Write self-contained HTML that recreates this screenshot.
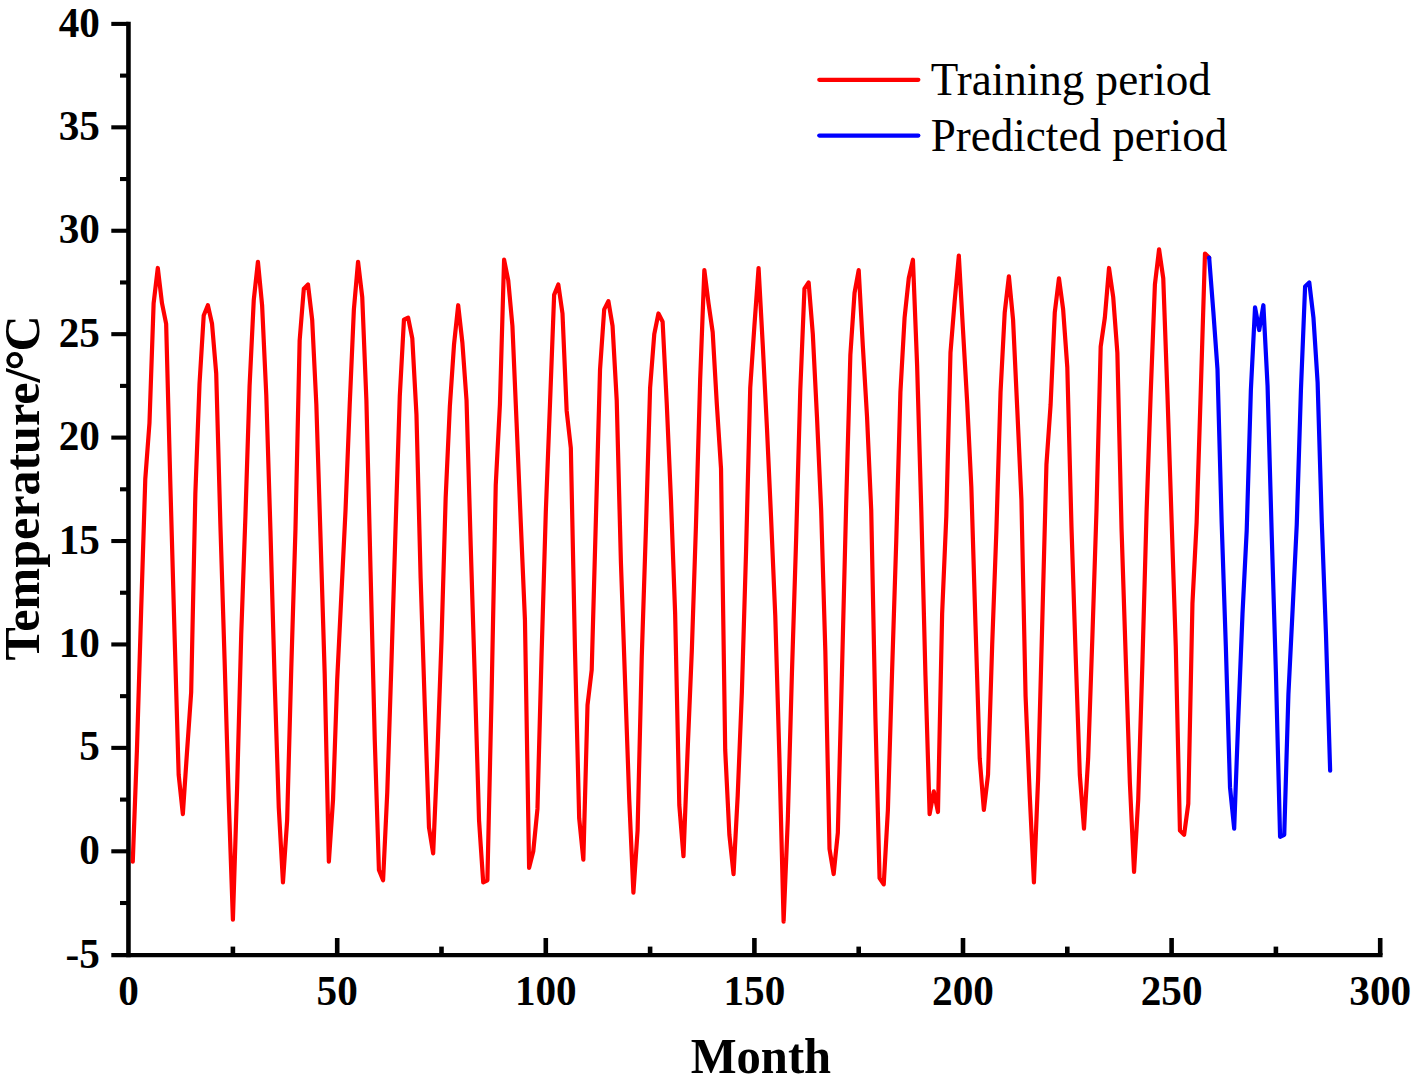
<!DOCTYPE html>
<html><head><meta charset="utf-8"><title>Temperature chart</title>
<style>html,body{margin:0;padding:0;background:#fff;width:1416px;height:1080px;overflow:hidden}</style></head>
<body>
<svg width="1416" height="1080" viewBox="0 0 1416 1080" style="display:block">
<rect width="1416" height="1080" fill="#fff"/>
<g stroke="#000" fill="none" stroke-linecap="butt">
<path stroke-width="4.6" d="M128.45,21.85 V957.15"/>
<path stroke-width="4.1" d="M111.3,955.1 H1382.55"/>
<path stroke-width="4.1" d="M111.3,851.30 H128.45"/>
<path stroke-width="4.1" d="M111.3,747.88 H128.45"/>
<path stroke-width="4.1" d="M111.3,644.45 H128.45"/>
<path stroke-width="4.1" d="M111.3,541.02 H128.45"/>
<path stroke-width="4.1" d="M111.3,437.60 H128.45"/>
<path stroke-width="4.1" d="M111.3,334.17 H128.45"/>
<path stroke-width="4.1" d="M111.3,230.75 H128.45"/>
<path stroke-width="4.1" d="M111.3,127.33 H128.45"/>
<path stroke-width="4.1" d="M111.3,23.90 H128.45"/>
<path stroke-width="4.1" d="M120.0,903.01 H128.45"/>
<path stroke-width="4.1" d="M120.0,799.59 H128.45"/>
<path stroke-width="4.1" d="M120.0,696.16 H128.45"/>
<path stroke-width="4.1" d="M120.0,592.74 H128.45"/>
<path stroke-width="4.1" d="M120.0,489.31 H128.45"/>
<path stroke-width="4.1" d="M120.0,385.89 H128.45"/>
<path stroke-width="4.1" d="M120.0,282.46 H128.45"/>
<path stroke-width="4.1" d="M120.0,179.04 H128.45"/>
<path stroke-width="4.1" d="M120.0,75.61 H128.45"/>
<path stroke-width="4.6" d="M337.20,938 V955.1"/>
<path stroke-width="4.6" d="M545.80,938 V955.1"/>
<path stroke-width="4.6" d="M754.40,938 V955.1"/>
<path stroke-width="4.6" d="M963.00,938 V955.1"/>
<path stroke-width="4.6" d="M1171.60,938 V955.1"/>
<path stroke-width="4.6" d="M1380.20,938 V955.1"/>
<path stroke-width="4.6" d="M232.90,946.6 V955.1"/>
<path stroke-width="4.6" d="M441.50,946.6 V955.1"/>
<path stroke-width="4.6" d="M650.10,946.6 V955.1"/>
<path stroke-width="4.6" d="M858.70,946.6 V955.1"/>
<path stroke-width="4.6" d="M1067.30,946.6 V955.1"/>
<path stroke-width="4.6" d="M1275.90,946.6 V955.1"/>
</g>
<text transform="translate(99.90,967.70) scale(1,1.03)" font-family="'Liberation Serif', serif" font-weight="bold" font-size="41.2px" text-anchor="end" fill="#000">-5</text>
<text transform="translate(99.90,863.90) scale(1,1.03)" font-family="'Liberation Serif', serif" font-weight="bold" font-size="41.2px" text-anchor="end" fill="#000">0</text>
<text transform="translate(99.90,760.48) scale(1,1.03)" font-family="'Liberation Serif', serif" font-weight="bold" font-size="41.2px" text-anchor="end" fill="#000">5</text>
<text transform="translate(99.90,657.05) scale(1,1.03)" font-family="'Liberation Serif', serif" font-weight="bold" font-size="41.2px" text-anchor="end" fill="#000">10</text>
<text transform="translate(99.90,553.62) scale(1,1.03)" font-family="'Liberation Serif', serif" font-weight="bold" font-size="41.2px" text-anchor="end" fill="#000">15</text>
<text transform="translate(99.90,450.20) scale(1,1.03)" font-family="'Liberation Serif', serif" font-weight="bold" font-size="41.2px" text-anchor="end" fill="#000">20</text>
<text transform="translate(99.90,346.77) scale(1,1.03)" font-family="'Liberation Serif', serif" font-weight="bold" font-size="41.2px" text-anchor="end" fill="#000">25</text>
<text transform="translate(99.90,243.35) scale(1,1.03)" font-family="'Liberation Serif', serif" font-weight="bold" font-size="41.2px" text-anchor="end" fill="#000">30</text>
<text transform="translate(99.90,139.93) scale(1,1.03)" font-family="'Liberation Serif', serif" font-weight="bold" font-size="41.2px" text-anchor="end" fill="#000">35</text>
<text transform="translate(99.90,36.50) scale(1,1.03)" font-family="'Liberation Serif', serif" font-weight="bold" font-size="41.2px" text-anchor="end" fill="#000">40</text>
<text transform="translate(128.60,1004.80) scale(1,1.03)" font-family="'Liberation Serif', serif" font-weight="bold" font-size="41.2px" text-anchor="middle" fill="#000">0</text>
<text transform="translate(337.20,1004.80) scale(1,1.03)" font-family="'Liberation Serif', serif" font-weight="bold" font-size="41.2px" text-anchor="middle" fill="#000">50</text>
<text transform="translate(545.80,1004.80) scale(1,1.03)" font-family="'Liberation Serif', serif" font-weight="bold" font-size="41.2px" text-anchor="middle" fill="#000">100</text>
<text transform="translate(754.40,1004.80) scale(1,1.03)" font-family="'Liberation Serif', serif" font-weight="bold" font-size="41.2px" text-anchor="middle" fill="#000">150</text>
<text transform="translate(963.00,1004.80) scale(1,1.03)" font-family="'Liberation Serif', serif" font-weight="bold" font-size="41.2px" text-anchor="middle" fill="#000">200</text>
<text transform="translate(1171.60,1004.80) scale(1,1.03)" font-family="'Liberation Serif', serif" font-weight="bold" font-size="41.2px" text-anchor="middle" fill="#000">250</text>
<text transform="translate(1380.20,1004.80) scale(1,1.03)" font-family="'Liberation Serif', serif" font-weight="bold" font-size="41.2px" text-anchor="middle" fill="#000">300</text>
<text transform="translate(760.90,1072.80) scale(1,1.03)" font-family="'Liberation Serif', serif" font-weight="bold" font-size="48.6px" text-anchor="middle" fill="#000">Month</text>
<text transform="translate(39.3,660.5) scale(1.05,1.03) rotate(-90)" font-family="'Liberation Serif', serif" font-weight="bold" font-size="48.6px" fill="#000">Temperature/</text>
<ellipse cx="14.7" cy="360.2" rx="6.55" ry="6.25" fill="none" stroke="#000" stroke-width="3.7"/>
<text transform="translate(39.3,351.5) scale(1.05,1.03) rotate(-90)" font-family="'Liberation Serif', serif" font-weight="bold" font-size="48.6px" fill="#000">C</text>
<g stroke-width="4.3" stroke-linecap="round" fill="none">
<path d="M819.3,79.8 H918.3" stroke="#f00"/>
<path d="M819.3,135.6 H918.3" stroke="#00f"/>
</g>
<text transform="translate(930.70,94.90) scale(1,1.035)" font-family="'Liberation Serif', serif" font-size="45.1px" text-anchor="start" fill="#000">Training period</text>
<text transform="translate(930.70,150.70) scale(1,1.035)" font-family="'Liberation Serif', serif" font-size="45.1px" text-anchor="start" fill="#000">Predicted period</text>
<polyline points="132.77,861.64 136.94,749.94 141.12,611.35 145.29,478.97 149.46,423.12 153.63,303.15 157.80,267.98 161.98,303.15 166.15,323.83 170.32,483.11 174.49,632.04 178.66,774.77 182.84,814.07 187.01,752.01 191.18,692.03 195.35,493.45 199.52,383.82 203.70,315.56 207.87,305.22 212.04,323.83 216.21,373.48 220.38,524.48 224.56,658.93 228.73,799.59 232.90,919.56 237.07,789.25 241.24,634.11 245.42,516.20 249.59,385.89 253.76,300.04 257.93,261.78 262.10,305.22 266.28,394.99 270.45,530.68 274.62,679.61 278.79,807.86 282.96,882.33 287.14,820.27 291.31,667.20 295.48,528.61 299.65,340.38 303.82,288.67 308.00,284.53 312.17,319.70 316.34,404.50 320.51,536.89 324.68,673.41 328.86,861.64 333.03,799.59 337.20,679.61 341.37,594.81 345.54,510.00 349.72,404.50 353.89,309.35 358.06,261.78 362.23,296.94 366.40,400.37 370.58,572.05 374.75,739.60 378.92,869.92 383.09,880.26 387.26,792.35 391.44,663.07 395.61,526.55 399.78,396.23 403.95,319.70 408.12,317.63 412.30,338.31 416.47,414.85 420.64,578.26 424.81,706.50 428.98,827.51 433.16,853.37 437.33,756.15 441.50,640.31 445.67,497.59 449.84,406.57 454.02,344.52 458.19,305.22 462.36,342.45 466.53,400.37 470.70,545.16 474.88,680.65 479.05,820.27 483.22,882.33 487.39,880.26 491.56,696.16 495.74,485.18 499.91,404.50 504.08,259.71 508.25,280.39 512.42,325.90 516.60,423.12 520.77,522.41 524.94,619.63 529.11,867.85 533.28,851.30 537.46,808.90 541.63,652.72 545.80,512.07 549.97,404.50 554.14,294.87 558.32,284.53 562.49,313.49 566.66,410.71 570.83,447.94 575.00,650.66 579.18,818.20 583.35,859.57 587.52,705.06 591.69,670.10 595.86,520.34 600.04,369.34 604.21,309.35 608.38,301.08 612.55,325.90 616.72,400.37 620.90,561.71 625.07,681.68 629.24,799.59 633.41,892.67 637.58,830.62 641.76,656.86 645.93,528.61 650.10,387.96 654.27,334.17 658.44,313.49 662.62,321.76 666.79,404.50 670.96,499.65 675.13,613.42 679.30,804.97 683.48,856.26 687.65,749.94 691.82,650.66 695.99,524.48 700.16,379.68 704.34,270.05 708.51,303.15 712.68,332.11 716.85,404.50 721.02,468.63 725.20,749.94 729.37,834.75 733.54,874.05 737.71,795.45 741.88,692.03 746.06,551.37 750.23,387.96 754.40,325.90 758.57,267.98 762.74,344.52 766.92,427.26 771.09,518.27 775.26,615.49 779.43,758.22 783.60,921.63 787.78,820.27 791.95,672.37 796.12,539.58 800.29,390.02 804.46,288.67 808.64,282.46 812.81,334.17 816.98,416.91 821.15,510.00 825.32,650.66 829.50,848.82 833.67,874.05 837.84,832.68 842.01,670.10 846.18,503.79 850.36,354.86 854.53,292.80 858.70,270.05 862.87,346.59 867.04,416.91 871.22,510.00 875.39,716.85 879.56,878.19 883.73,884.40 887.90,809.93 892.08,671.34 896.25,541.02 900.42,392.09 904.59,317.63 908.76,278.33 912.94,259.71 917.11,365.20 921.28,510.00 925.45,675.48 929.62,814.07 933.80,791.31 937.97,812.00 942.14,613.42 946.31,516.20 950.48,352.79 954.66,301.08 958.83,255.57 963.00,330.04 967.17,402.44 971.34,487.24 975.52,625.83 979.69,758.22 983.86,809.93 988.03,774.77 992.20,644.45 996.38,530.68 1000.55,392.09 1004.72,312.46 1008.89,276.26 1013.06,319.70 1017.24,408.64 1021.41,499.65 1025.58,696.16 1029.75,795.45 1033.92,882.33 1038.10,778.90 1042.27,621.70 1046.44,464.49 1050.61,404.50 1054.78,312.46 1058.96,278.33 1063.13,309.35 1067.30,367.27 1071.47,526.55 1075.64,654.79 1079.82,774.77 1083.99,828.55 1088.16,758.22 1092.33,638.24 1096.50,510.00 1100.68,346.59 1104.85,317.63 1109.02,267.98 1113.19,296.94 1117.36,352.79 1121.54,528.61 1125.71,656.86 1129.88,783.04 1134.05,871.98 1138.22,799.59 1142.40,663.07 1146.57,512.07 1150.74,392.09 1154.91,284.53 1159.08,249.37 1163.26,278.33 1167.43,394.16 1171.60,520.34 1175.77,646.52 1179.94,830.62 1184.12,834.75 1188.29,803.72 1192.46,603.08 1196.63,522.41 1200.80,390.02 1204.98,253.50 1209.15,257.64" fill="none" stroke="#f00" stroke-width="4.2" stroke-linejoin="round" stroke-linecap="round"/>
<polyline points="1209.15,257.64 1213.32,311.42 1217.49,369.34 1221.66,522.41 1225.84,646.52 1230.01,787.18 1234.18,828.55 1238.35,716.85 1242.52,613.42 1246.70,530.68 1250.87,390.02 1255.04,307.28 1259.21,330.04 1263.38,305.22 1267.56,385.89 1271.73,534.82 1275.90,672.37 1280.07,836.82 1284.24,834.75 1288.42,694.09 1292.59,610.11 1296.76,524.48 1300.93,390.02 1305.10,286.60 1309.28,282.46 1313.45,317.63 1317.62,382.58 1321.79,522.41 1325.96,634.11 1330.14,770.63" fill="none" stroke="#00f" stroke-width="4.2" stroke-linejoin="round" stroke-linecap="round"/>
</svg>
</body></html>
